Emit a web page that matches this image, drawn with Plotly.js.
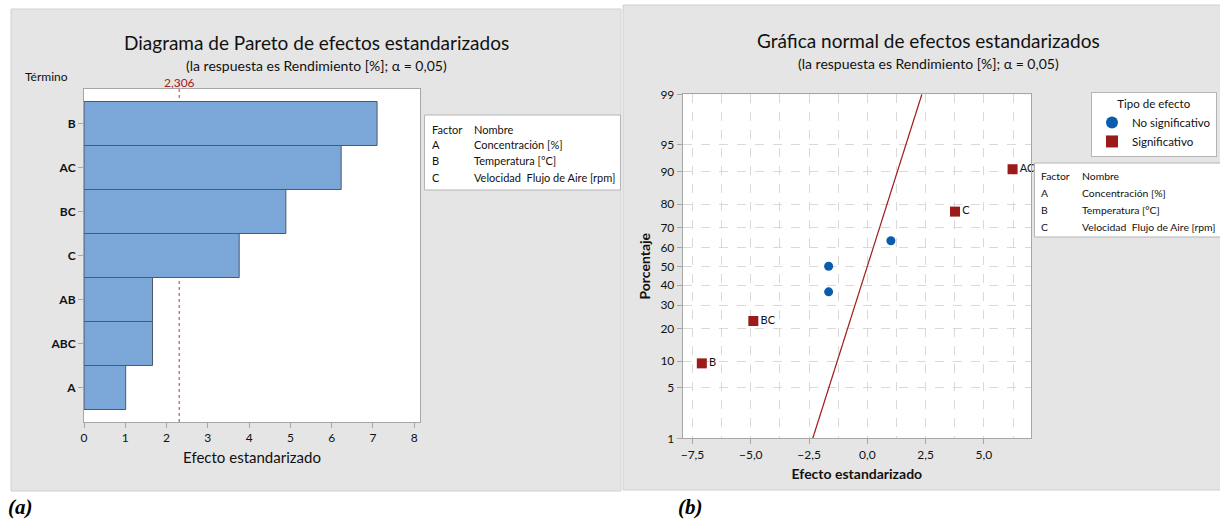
<!DOCTYPE html>
<html>
<head>
<meta charset="utf-8">
<script src="https://cdn.plot.ly/plotly-3.0.1.min.js"></script>
<style>html,body{margin:0;padding:0;background:#fff;overflow:hidden;width:1220px;height:521px;}#chart{width:1220px;height:521px;}</style>
</head>
<body>
<div id="chart"></div>
<script>
// ---------- data ----------
const paretoTerms = ['B', 'AC', 'BC', 'C', 'AB', 'ABC', 'A'];
const paretoEffects = [7.10, 6.23, 4.89, 3.76, 1.66, 1.66, 1.01];
const criticalValue = 2.306;
const criticalLabel = '2,306';

const nsTerms = ['AB', 'ABC', 'A'];
const nsEffects = [-1.66, -1.66, 1.01];
const nsPct = [36.49, 50.00, 63.51];

const sigTerms = ['B', 'BC', 'C', 'AC'];
const sigEffects = [-7.10, -4.89, 3.76, 6.23];
const sigPct = [9.46, 22.97, 77.03, 90.54];

const fitEffects = [-2.34, 2.34];
const fitPct = [1, 99];

const pctTicks = [1, 5, 10, 20, 30, 40, 50, 60, 70, 80, 90, 95, 99];

const factorCodes = ['A', 'B', 'C'];
const factorNames = ['Concentración [%]', 'Temperatura [°C]', 'Velocidad  Flujo de Aire [rpm]'];

// ---------- helpers ----------
function probit(p) {
  const a = [-3.969683028665376e+01, 2.209460984245205e+02, -2.759285104469687e+02, 1.383577518672690e+02, -3.066479806614716e+01, 2.506628277459239e+00];
  const b = [-5.447609879822406e+01, 1.615858368580409e+02, -1.556989798598866e+02, 6.680131188771972e+01, -1.328068155288572e+01];
  const c = [-7.784894002430293e-03, -3.223964580411365e-01, -2.400758277161838e+00, -2.549732539343734e+00, 4.374664141464968e+00, 2.938163982698783e+00];
  const d = [7.784695709041462e-03, 3.224671290700398e-01, 2.445134137142996e+00, 3.754408661907416e+00];
  const pl = 0.02425, ph = 1 - pl;
  let q, r;
  if (p < pl) { q = Math.sqrt(-2 * Math.log(p)); return (((((c[0]*q+c[1])*q+c[2])*q+c[3])*q+c[4])*q+c[5]) / ((((d[0]*q+d[1])*q+d[2])*q+d[3])*q+1); }
  if (p <= ph) { q = p - 0.5; r = q*q; return (((((a[0]*r+a[1])*r+a[2])*r+a[3])*r+a[4])*r+a[5])*q / (((((b[0]*r+b[1])*r+b[2])*r+b[3])*r+b[4])*r+1); }
  q = Math.sqrt(-2 * Math.log(1 - p)); return -(((((c[0]*q+c[1])*q+c[2])*q+c[3])*q+c[4])*q+c[5]) / ((((d[0]*q+d[1])*q+d[2])*q+d[3])*q+1);
}
const z = arr => arr.map(v => probit(v / 100));

const W = 1220, H = 521;
const px = v => v / W;
const py = v => 1 - v / H;
const FONT = 'Lato, "Open Sans", sans-serif';
const TXT = '#111111';
const AX = '#a6a6a6';
const GRID = '#d9d9d9';

// ---------- traces ----------
const traces = [
  {
    type: 'bar', orientation: 'h', x: paretoEffects, y: paretoTerms,
    xaxis: 'x', yaxis: 'y', width: 1,
    marker: { color: '#7ba6d8', line: { color: '#4f5966', width: 1 } },
    showlegend: false, hoverinfo: 'x+y'
  },
  {
    type: 'scatter', mode: 'lines', x: fitEffects, y: z(fitPct),
    xaxis: 'x2', yaxis: 'y2', line: { color: '#a01c1c', width: 1.2 },
    showlegend: false, hoverinfo: 'skip'
  },
  {
    type: 'scatter', mode: 'markers', name: 'No significativo',
    x: nsEffects, y: z(nsPct), text: nsTerms, xaxis: 'x2', yaxis: 'y2',
    marker: { symbol: 'circle', size: 9, color: '#0b5cad' }
  },
  {
    type: 'scatter', mode: 'markers+text', name: 'Significativo',
    x: sigEffects, y: z(sigPct), text: sigTerms, textposition: 'middle right',
    textfont: { family: FONT, size: 11, color: TXT }, cliponaxis: false,
    xaxis: 'x2', yaxis: 'y2',
    marker: { symbol: 'square', size: 10, color: '#9b1b1b' }
  }
];

// ---------- annotations ----------
const ann = [];
function addText(text, x, y, size, opts) {
  ann.push(Object.assign({
    text: text, x: px(x), y: py(y), xref: 'paper', yref: 'paper',
    showarrow: false, xanchor: 'center', yanchor: 'middle',
    font: { family: FONT, size: size, color: TXT }
  }, opts || {}));
}
addText('Diagrama de Pareto de efectos estandarizados', 316, 43, 19);
addText('(la respuesta es Rendimiento [%]; α = 0,05)', 316, 66, 14);
addText('Término', 46, 76, 12);
ann.push({ text: criticalLabel, x: criticalValue, xref: 'x', y: py(83), yref: 'paper',
  showarrow: false, xanchor: 'center', yanchor: 'middle', font: { family: FONT, size: 12, color: '#a52020' } });
addText('Gráfica normal de efectos estandarizados', 928, 40, 19);
addText('(la respuesta es Rendimiento [%]; α = 0,05)', 928, 63, 14);

// factor tables
function factorTable(x0, yHeader, dy, col2, size) {
  addText('Factor', x0, yHeader, size, { xanchor: 'left' });
  addText('Nombre', x0 + col2, yHeader, size, { xanchor: 'left' });
  factorCodes.forEach((c, i) => {
    addText(c, x0, yHeader + dy * (i + 1), size, { xanchor: 'left' });
    addText(factorNames[i], x0 + col2, yHeader + dy * (i + 1), size, { xanchor: 'left' });
  });
}
factorTable(430, 129, 16, 42, 11);
factorTable(1039, 176, 17, 41, 10.4);

// panel labels
addText('(a)', 20, 507, 20, { font: { family: '"Liberation Serif", serif', size: 21, color: '#000', weight: 'bold', style: 'italic' } });
addText('(b)', 690, 507, 20, { font: { family: '"Liberation Serif", serif', size: 21, color: '#000', weight: 'bold', style: 'italic' } });

// ---------- shapes ----------
const shapes = [
  { type: 'rect', xref: 'paper', yref: 'paper', x0: px(11), x1: px(621), y0: py(9), y1: py(491),
    fillcolor: '#e5e5e5', line: { color: '#d0d0d0', width: 1 }, layer: 'below' },
  { type: 'rect', xref: 'paper', yref: 'paper', x0: px(623), x1: px(1222), y0: py(5), y1: py(490),
    fillcolor: '#e5e5e5', line: { color: '#d0d0d0', width: 1 }, layer: 'below' },
  { type: 'rect', xref: 'x domain', yref: 'y domain', x0: 0, x1: 1, y0: 0, y1: 1,
    fillcolor: '#ffffff', line: { width: 0 }, layer: 'below' },
  { type: 'rect', xref: 'x2 domain', yref: 'y2 domain', x0: 0, x1: 1, y0: 0, y1: 1,
    fillcolor: '#ffffff', line: { width: 0 }, layer: 'below' },
  { type: 'line', xref: 'x', yref: 'y domain', x0: criticalValue, x1: criticalValue, y0: 0, y1: 1.02,
    line: { color: '#d42a2a', width: 1, dash: 'dot' }, layer: 'below' },
  // factor table boxes
  { type: 'rect', xref: 'paper', yref: 'paper', x0: px(424.5), x1: px(620.5), y0: py(115), y1: py(190),
    fillcolor: '#ffffff', line: { color: '#b5b5b5', width: 1 }, layer: 'above' },
  { type: 'rect', xref: 'paper', yref: 'paper', x0: px(1034.5), x1: px(1230), y0: py(163), y1: py(237),
    fillcolor: '#ffffff', line: { color: '#b5b5b5', width: 1 }, layer: 'above' }
];

// ---------- layout ----------
const layout = {
  width: W, height: H, autosize: false, margin: { l: 0, r: 0, t: 0, b: 0, pad: 0 },
  paper_bgcolor: '#ffffff', plot_bgcolor: 'rgba(0,0,0,0)',
  separators: ',.',
  font: { family: FONT, size: 12, color: TXT },
  xaxis: {
    domain: [px(84), px(420)], anchor: 'y', range: [0, 8.14], dtick: 1, tick0: 0,
    showgrid: false, zeroline: false, showline: true, mirror: true, linecolor: AX, linewidth: 1,
    ticks: 'outside', ticklen: 5, tickcolor: AX, tickfont: { family: FONT, size: 12, color: TXT },
    title: { text: 'Efecto estandarizado', font: { family: FONT, size: 15, color: TXT }, standoff: 8 }
  },
  yaxis: {
    domain: [py(422), py(89)], anchor: 'x', type: 'category',
    categoryorder: 'array', categoryarray: paretoTerms, range: [6.784, -0.784],
    showgrid: false, zeroline: false, showline: true, mirror: true, linecolor: AX, linewidth: 1,
    ticks: 'outside', ticklen: 5, tickcolor: AX, tickfont: { family: FONT, size: 12, color: TXT, weight: 'bold' }
  },
  xaxis2: {
    domain: [px(682.7), px(1031)], anchor: 'y2', range: [-7.92, 7.02], dtick: 2.5, tick0: 0,
    tickformat: '.1f',
    showgrid: true, gridcolor: GRID, griddash: 'dash', gridwidth: 1,
    minor: { dtick: 1.25, tick0: 0, showgrid: true, gridcolor: GRID, griddash: 'dash', ticks: '' },
    zeroline: false, showline: true, mirror: true, linecolor: AX, linewidth: 1,
    ticks: 'outside', ticklen: 5, tickcolor: AX, tickfont: { family: FONT, size: 12, color: TXT },
    title: { text: 'Efecto estandarizado', font: { family: FONT, size: 14, color: TXT, weight: 'bold' }, standoff: 8 }
  },
  yaxis2: {
    domain: [py(438.3), py(94.3)], anchor: 'x2', range: [probit(0.01), probit(0.99)],
    tickmode: 'array', tickvals: z(pctTicks), ticktext: pctTicks.map(String),
    showgrid: true, gridcolor: GRID, griddash: 'dash', gridwidth: 1,
    zeroline: false, showline: true, mirror: true, linecolor: AX, linewidth: 1,
    ticks: 'outside', ticklen: 5, tickcolor: AX, tickfont: { family: FONT, size: 12, color: TXT },
    title: { text: 'Porcentaje', font: { family: FONT, size: 14, color: TXT, weight: 'bold' }, standoff: 6 }
  },
  showlegend: true,
  legend: {
    x: px(1217), y: py(92), xanchor: 'right', yanchor: 'top',
    bgcolor: '#ffffff', bordercolor: '#b5b5b5', borderwidth: 1,
    font: { family: FONT, size: 11.5, color: TXT },
    title: { text: 'Tipo de efecto', side: 'top center', font: { family: FONT, size: 11.5, color: TXT } },
    itemsizing: 'constant', tracegroupgap: 0, itemwidth: 30
  },
  annotations: ann,
  shapes: shapes
};

Plotly.newPlot('chart', traces, layout, { displayModeBar: false, staticPlot: true });
</script>
</body>
</html>
